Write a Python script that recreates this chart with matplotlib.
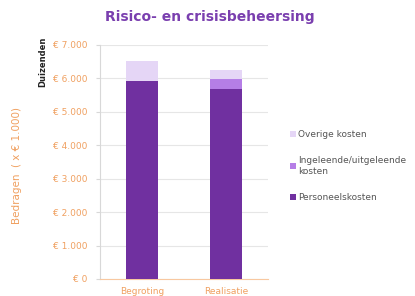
import matplotlib.pyplot as plt
import numpy as np

categories = ['Begroting', 'Realisatie']
personeel = [5910, 5680]
ingeleend = [0, 300]
overige = [620, 280]
series = ['Personeelskosten', 'Ingeleende/uitgeleende\nkosten', 'Overige kosten']
colors = ['#7030A0', '#B57EE6', '#E5D6F6']
ticks = [0, 1000, 2000, 3000, 4000, 5000, 6000, 7000]
tick_labels = ['€ 0', '€ 1.000', '€ 2.000', '€ 3.000', '€ 4.000', '€ 5.000', '€ 6.000', '€ 7.000']

orange = '#F0A060'
plt.rcParams['font.family'] = ['DejaVu Sans']

fig = plt.figure(figsize=(4.15, 2.96), dpi=100)
ax = fig.add_axes([100 / 415, 17 / 296, 168 / 415, 234 / 296])

x = np.arange(len(categories))
bottom = np.zeros(len(categories))
handles = []
for vals, col, name in zip([personeel, ingeleend, overige], colors, series):
    b = ax.bar(x, vals, 0.39, bottom=bottom, color=col, label=name, zorder=3)
    handles.append(b)
    bottom += np.array(vals)

ax.set_xlim(-0.5, 1.5)
ax.set_ylim(0, 7000)
ax.set_yticks(ticks)
ax.set_yticklabels(tick_labels, color=orange, fontsize=6.5)
ax.set_xticks(x)
ax.set_xticklabels(categories, color=orange, fontsize=6.5)
ax.tick_params(axis='x', length=0, pad=6)
ax.tick_params(axis='y', length=3, color='#d8d8d8', pad=6)
ax.yaxis.grid(True, color='#e6e6e6', linewidth=0.8, zorder=0)
for s in ['top', 'right']:
    ax.spines[s].set_visible(False)
ax.spines['left'].set_color('#d8d8d8')
ax.spines['bottom'].set_color('#F8C8A0')

fig.text(210 / 415, 1 - 17 / 296, 'Risico- en crisisbeheersing', ha='center', va='center',
         fontsize=10, fontweight='bold', color='#7A3FAF')
fig.text(43 / 415, 1 - 62 / 296, 'Duizenden', rotation=90, ha='center', va='center',
         fontsize=6, fontweight='bold', color='#222222')
fig.text(17 / 415, 1 - 166 / 296, 'Bedragen  ( x € 1.000)', rotation=90, ha='center',
         va='center', fontsize=7.5, color=orange)

leg = fig.legend(handles[::-1], series[::-1], loc='upper left', bbox_to_anchor=(282 / 415, 1 - 122 / 296),
                 frameon=False, fontsize=6.5, handlelength=0.6, handleheight=0.6,
                 handletextpad=0.3, labelspacing=1.9, labelcolor='#555555')

fig.savefig('out.png', dpi=100)
